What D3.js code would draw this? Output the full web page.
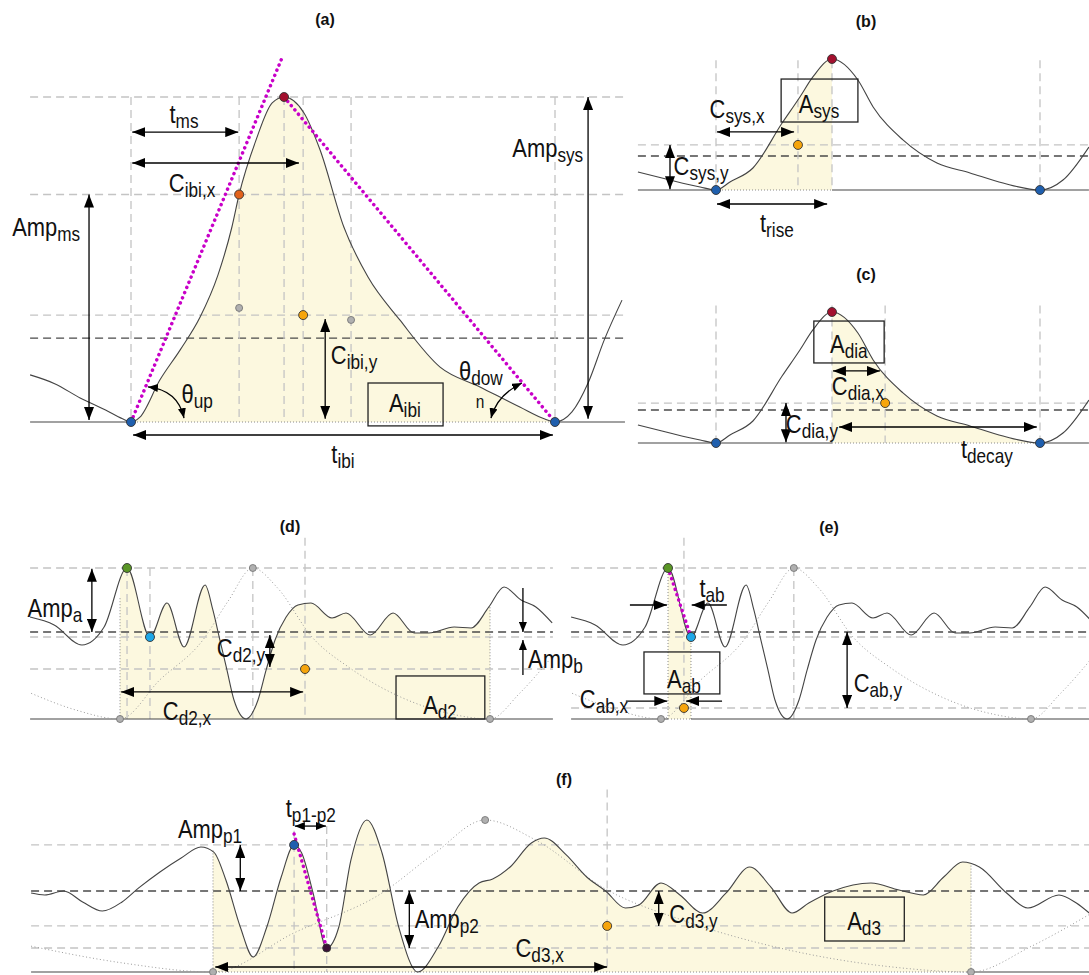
<!DOCTYPE html>
<html><head><meta charset="utf-8">
<script src="https://cdn.jsdelivr.net/npm/d3@7"></script>
<style>
body{margin:0;background:#fff}
svg{display:block;font-family:"Liberation Sans",Arial,sans-serif}
</style></head><body>
<svg id="fig" width="1089" height="975"></svg>
<script>
// ---------- waveforms (time in % of the beat / interval, amplitude normalised) ----------
// (a) one inter-beat interval of the pulse wave
const beatT = [-23.8,-18,-12,-6,-2,0,2.1,6.8,11.6,16.3,20.5,23.8,25.5,29.5,33.3,36.1,40.8,44.6,50.2,55.9,63.4,72.9,82.3,91.7,97.6,100,104,107.8,111.6,115.8];
const beatA = [0.145,0.118,0.074,0.037,0.01,0,0.015,0.129,0.222,0.323,0.452,0.6,0.70,0.868,0.982,1.0,0.951,0.837,0.6,0.446,0.314,0.169,0.108,0.046,0.009,0,0.031,0.12,0.252,0.375];

// (b), (c) the same beat, systolic / diastolic halves
const beat2T = [-24.1,-14.2,-4.9,0,4.3,11.4,20.4,25.9,29.9,35.8,43.8,48.5,57.7,68.2,78.4,88.6,100,107.1,115.1];
const beat2A = [0.137,0.076,0.023,0,0.061,0.168,0.511,0.71,0.863,1,0.84,0.634,0.382,0.206,0.13,0.053,0,0.076,0.328];

// (d), (e) second derivative of the pulse wave
const sdT = [-24.3,-17.8,-10.3,-4.3,1.9,8.1,12.7,17.3,23.0,25.1,27.0,28.9,30.8,34.1,37.3,39.5,41.9,44.9,48.1,51.6,57.3,61.1,67.6,73.8,79.5,83.5,90.3,94.9,99.7,103.8,108.4,112.4,116.8];
const sdA = [0.675,0.623,0.490,0.609,1.0,0.543,0.768,0.477,0.887,0.722,0.523,0.325,0.126,0,0.126,0.325,0.523,0.675,0.755,0.768,0.669,0.702,0.556,0.702,0.570,0.570,0.609,0.603,0.742,0.874,0.788,0.742,0.636];

// (f) third derivative of the pulse wave
const tdT = [-24.0,-22.2,-19.7,-17.2,-14.6,-12.0,-9.8,-7.0,-4.2,-1.6,0.1,1.7,3.6,5.3,7.1,9.0,10.7,11.7,13.2,15.0,16.6,18.2,20.3,22.3,24.5,27.0,29.7,32.3,35.1,36.9,39.2,42.0,43.7,46.6,49.3,51.8,54.4,56.2,59.1,61.6,64.6,67.7,70.8,73.6,76.4,78.6,81.8,86.8,90.5,93.7,96.4,98.9,101.1,104.7,107.5,111.6,113.9,115.6];
const tdA = [0.520,0.507,0.533,0.461,0.401,0.461,0.553,0.658,0.750,0.822,0.789,0.605,0.296,0.099,0.296,0.625,0.836,0.783,0.520,0.158,0.296,0.737,1.0,0.783,0.296,0.0,0.164,0.428,0.586,0.612,0.691,0.849,0.882,0.770,0.625,0.533,0.421,0.441,0.586,0.507,0.388,0.520,0.691,0.559,0.388,0.454,0.533,0.586,0.539,0.507,0.625,0.724,0.691,0.520,0.421,0.507,0.454,0.388];

// reference pulse (dotted) behind the derivative panels
const refT = [-24,-12,0,10.8,22.3,29.2,35.9,42.5,52,62,75.9,89.6,100,108,116];
const refA = [0.17,0.06,0,0.26,0.52,0.78,1,0.87,0.54,0.34,0.145,0.033,0,0.17,0.39];

// panel titles
const titles = ["(a)","(b)","(c)","(d)","(e)","(f)"];

// ---------- setup ----------
const svg = d3.select("#fig");
const defs = svg.append("defs");
function marker(id, w, h) {
  defs.append("marker").attr("id", id).attr("viewBox", `0 0 ${w} ${h}`)
    .attr("refX", w).attr("refY", h / 2).attr("markerWidth", w).attr("markerHeight", h)
    .attr("markerUnits", "userSpaceOnUse").attr("orient", "auto-start-reverse")
    .append("path").attr("d", `M0,0L${w},${h / 2}L0,${h}Z`).attr("fill", "#000");
}
marker("ah", 13, 10);
marker("ahs", 10, 8);

const FILL = "#fcf8df";
const STY = {
  light: { stroke: "#c4c4c4", w: 1.3, dash: "8,5" },
  dark: { stroke: "#4a4a4a", w: 1.4, dash: "8,5" },
  solid: { stroke: "#444", w: 1.1, dash: null },
  dot: { stroke: "#8a8a8a", w: 1, dash: "1,2" },
  ref: { stroke: "#9a9a9a", w: 1, dash: "1,2.5" },
  mag: { stroke: "#c800c8", w: 3.5, dash: "0.1,5.5" }
};

const gFill = svg.append("g"), gGrid = svg.append("g"), gCurve = svg.append("g"),
  gAnno = svg.append("g"), gDots = svg.append("g"), gText = svg.append("g");

function mk(xr, yr) {
  return { x: d3.scaleLinear().domain([0, 100]).range(xr), y: d3.scaleLinear().domain([0, 1]).range(yr) };
}
const PA = mk([131, 555], [422, 97]);
const PB = mk([716, 1040], [190, 59]);
const PC = mk([716, 1040], [443, 312]);
const PD = mk([120, 490], [719, 568]);
const PE = mk([661, 1031], [719, 568]);
const PF = mk([213, 971], [972, 820]);

let clipN = 0;
function styled(sel, s) {
  sel.attr("fill", "none").attr("stroke", s.stroke).attr("stroke-width", s.w);
  if (s.dash) sel.attr("stroke-dasharray", s.dash);
  if (s === STY.mag) sel.attr("stroke-linecap", "round");
  return sel;
}
function seg(g, p, t0, a0, t1, a1, s) {
  return styled(g.append("line").attr("x1", p.x(t0)).attr("y1", p.y(a0)).attr("x2", p.x(t1)).attr("y2", p.y(a1)), s);
}
function hline(p, a, t0, t1, s) { return seg(gGrid, p, t0, a, t1, a, STY[s]); }
function vline(p, t, a0, a1, s) { return seg(gGrid, p, t, a0, t, a1, STY[s]); }
function lineGen(p, T, A, crv) {
  return d3.line().x((d, i) => p.x(T[i])).y((d, i) => p.y(A[i])).curve(crv || d3.curveMonotoneX)(T);
}
function wave(p, T, A, s, crv) {
  return styled(gCurve.append("path").attr("d", lineGen(p, T, A, crv)), STY[s]);
}
function fillUnder(p, T, A, t0, t1) {
  const id = "clip" + (clipN++);
  defs.append("clipPath").attr("id", id).append("rect")
    .attr("x", p.x(t0)).attr("y", 0).attr("width", p.x(t1) - p.x(t0)).attr("height", 975);
  gFill.append("path")
    .attr("d", d3.area().x((d, i) => p.x(T[i])).y0(p.y(0)).y1((d, i) => p.y(A[i])).curve(d3.curveMonotoneX)(T))
    .attr("fill", FILL).attr("clip-path", `url(#${id})`);
}
function arrow(p, t0, a0, t1, a1, both, m) {
  const l = gAnno.append("line").attr("x1", p.x(t0)).attr("y1", p.y(a0)).attr("x2", p.x(t1)).attr("y2", p.y(a1))
    .attr("stroke", "#000").attr("stroke-width", 1.3).attr("marker-end", `url(#${m || "ah"})`);
  if (both) l.attr("marker-start", `url(#${m || "ah"})`);
}
function curvedArrow(p, s, c, e) {
  const path = d3.path();
  path.moveTo(p.x(s[0]), p.y(s[1]));
  path.quadraticCurveTo(p.x(c[0]), p.y(c[1]), p.x(e[0]), p.y(e[1]));
  gAnno.append("path").attr("d", path.toString()).attr("fill", "none").attr("stroke", "#000")
    .attr("stroke-width", 1.3).attr("marker-start", "url(#ahs)").attr("marker-end", "url(#ahs)");
}
function box(p, t0, t1, a0, a1) {
  gAnno.append("rect").attr("x", p.x(t0)).attr("y", p.y(a0)).attr("width", p.x(t1) - p.x(t0))
    .attr("height", p.y(a1) - p.y(a0)).attr("fill", "none").attr("stroke", "#222").attr("stroke-width", 1.3);
}
// symbol with subscript, set slightly condensed
function label(p, t, a, main, sub, anchor, size) {
  const fs = size || 25.5;
  const tx = gText.append("text")
    .attr("transform", `translate(${p.x(t)},${p.y(a)}) scale(0.86,1)`)
    .attr("text-anchor", anchor || "middle").attr("font-size", fs).attr("fill", "#111");
  tx.append("tspan").text(main);
  if (sub) tx.append("tspan").attr("font-size", Math.round(fs * 0.78)).attr("dy", 5).text(sub);
}
const COL = {
  blue: "#1f5fae", red: "#a3102e", ored: "#e2621b", orange: "#f6a50c",
  grey: "#b0b0b0", green: "#5a9626", cyan: "#1ea7e8", dark: "#3a1236"
};
function dot(p, t, a, c, r) {
  gDots.append("circle").attr("cx", p.x(t)).attr("cy", p.y(a)).attr("r", r || 4.5)
    .attr("fill", COL[c]).attr("stroke", c === "grey" ? "#777" : "#333").attr("stroke-width", 0.9);
}

// ---------- (a) inter-beat interval ----------
fillUnder(PA, beatT, beatA, 0, 100);
[1, 0.70, 0.329].forEach(a => hline(PA, a, -23.8, 116.5, "light"));
hline(PA, 0.258, -23.8, 116.5, "dark");
[0, 25.5, 36.1, 40.6, 51.9, 100].forEach(t => vline(PA, t, 1, 0, "light"));
hline(PA, 0, -23.8, 0, "solid"); hline(PA, 0, 100, 116.5, "solid"); hline(PA, 0, 0, 100, "dot");
wave(PA, beatT, beatA, "solid");
seg(gAnno, PA, 0, 0, 35.6, 1.12, STY.mag);
seg(gAnno, PA, 36.1, 1, 100, 0, STY.mag);
arrow(PA, 0.3, 0.892, 25.3, 0.892, true);
arrow(PA, 0.3, 0.797, 39.6, 0.797, true);
arrow(PA, -9.9, 0.70, -9.9, 0.006, true);
arrow(PA, 107.8, 1, 107.8, 0.01, true);
arrow(PA, 45.8, 0.317, 45.8, 0.01, true);
arrow(PA, 0.5, -0.04, 99.5, -0.04, true);
curvedArrow(PA, [4.0, 0.108], [11.1, 0.098], [12.5, 0.012]);
curvedArrow(PA, [92.2, 0.12], [86.3, 0.083], [84.9, 0.012]);
box(PA, 55.9, 73.6, 0.12, -0.012);
label(PA, 12.5, 0.92, "t", "ms");
label(PA, 14.4, 0.708, "C", "ibi,x");
label(PA, -20, 0.572, "Amp", "ms");
label(PA, 98.3, 0.815, "Amp", "sys");
label(PA, 52.6, 0.18, "C", "ibi,y");
label(PA, 15.6, 0.058, "θ", "up");
label(PA, 82.5, 0.129, "θ", "dow");
label(PA, 82.3, 0.043, "n", null, "middle", 18);
label(PA, 64.6, 0.031, "A", "ibi");
label(PA, 50, -0.126, "t", "ibi");
dot(PA, 0, 0, "blue"); dot(PA, 100, 0, "blue"); dot(PA, 36.1, 1, "red");
dot(PA, 25.5, 0.70, "ored"); dot(PA, 40.6, 0.329, "orange");
dot(PA, 25.5, 0.351, "grey", 3.5); dot(PA, 51.9, 0.314, "grey", 3.5);

// ---------- (b) systolic part ----------
fillUnder(PB, beat2T, beat2A, 0, 35.8);
hline(PB, 0.344, -24.1, 115.1, "light"); hline(PB, 0.26, -24.1, 115.1, "dark");
[0, 25.3, 35.8, 100].forEach(t => vline(PB, t, 0.99, 0, "light"));
hline(PB, 0, -24.1, 0, "solid"); hline(PB, 0, 35.8, 115.1, "solid"); hline(PB, 0, 0, 35.8, "dot");
wave(PB, beat2T, beat2A, "solid");
box(PB, 20.1, 43.8, 0.847, 0.519);
arrow(PB, 0.3, 0.443, 24.1, 0.443, true);
arrow(PB, -14.2, 0.344, -14.2, 0.005, true);
arrow(PB, 0.3, -0.107, 34.3, -0.107, true);
label(PB, 31.8, 0.588, "A", "sys");
label(PB, 6.5, 0.55, "C", "sys,x");
label(PB, -4.6, 0.115, "C", "sys,y");
label(PB, 18.8, -0.32, "t", "rise");
dot(PB, 0, 0, "blue"); dot(PB, 100, 0, "blue"); dot(PB, 35.8, 1, "red"); dot(PB, 25.3, 0.344, "orange");

// ---------- (c) diastolic part ----------
fillUnder(PC, beat2T, beat2A, 35.8, 100);
hline(PC, 0.305, -24.1, 115.1, "light"); hline(PC, 0.252, -24.1, 115.1, "dark");
[0, 35.8, 52.2, 100].forEach(t => vline(PC, t, 1.05, 0, "light"));
hline(PC, 0, -24.1, 35.8, "solid"); hline(PC, 0, 100, 115.1, "solid"); hline(PC, 0, 35.8, 100, "dot");
wave(PC, beat2T, beat2A, "solid");
box(PC, 30.2, 51.9, 0.931, 0.611);
arrow(PC, 36.1, 0.55, 50.6, 0.55, true);
arrow(PC, 21.6, 0.305, 21.6, 0.005, true);
arrow(PC, 38, 0.122, 99, 0.122, true);
label(PC, 41, 0.687, "A", "dia");
label(PC, 43.8, 0.366, "C", "dia,x");
label(PC, 29.6, 0.076, "C", "dia,y");
label(PC, 83.6, -0.115, "t", "decay");
dot(PC, 0, 0, "blue"); dot(PC, 100, 0, "blue"); dot(PC, 35.8, 1, "red"); dot(PC, 52.2, 0.305, "orange");

// ---------- (d) second derivative, whole beat ----------
fillUnder(PD, sdT, sdA, 0, 100);
hline(PD, 1, -24.3, 117, "light"); hline(PD, 0.543, -24.3, 117, "light");
hline(PD, 0.331, -24.3, 117, "light"); hline(PD, 0.576, -24.3, 117, "dark");
[1.9, 8.1, 35.9].forEach(t => vline(PD, t, 1, 0, "light"));
vline(PD, 50, 1.2, 0, "light");
vline(PD, 0, 0.8, 0, "dot"); vline(PD, 100, 0.74, 0, "dot");
hline(PD, 0, -24.3, 117, "solid");
wave(PD, refT, refA, "ref");
wave(PD, sdT, sdA, "solid");
arrow(PD, -7.6, 0.995, -7.6, 0.576, true);
arrow(PD, 40.5, 0.556, 40.5, 0.344, true);
arrow(PD, 108.9, 0.868, 108.9, 0.576, false, "ahs");
arrow(PD, 108.9, 0.291, 108.9, 0.523, false, "ahs");
arrow(PD, 0.3, 0.179, 49.5, 0.179, true);
box(PD, 74.6, 98.6, 0.285, 0);
label(PD, -17.6, 0.675, "Amp", "a");
label(PD, 32.7, 0.41, "C", "d2,y");
label(PD, 110.3, 0.338, "Amp", "b", "start");
label(PD, 18.1, -0.007, "C", "d2,x");
label(PD, 86.5, 0.033, "A", "d2");
dot(PD, 0, 0, "grey", 3.5); dot(PD, 35.9, 1, "grey", 3.5); dot(PD, 100, 0, "grey", 3.5);
dot(PD, 1.9, 1, "green"); dot(PD, 8.1, 0.543, "cyan"); dot(PD, 50, 0.331, "orange");

// ---------- (e) second derivative, a-b segment ----------
fillUnder(PE, sdT, sdA, 1.9, 8.1);
hline(PE, 1, -24.3, 116, "light"); hline(PE, 0.543, -24.3, 116, "light");
hline(PE, 0.073, -24.3, 116, "light"); hline(PE, 0.576, -24.3, 116, "dark");
vline(PE, 6.2, 1.2, 0, "light"); vline(PE, 35.9, 1, 0, "light");
vline(PE, 1.9, 1, 0, "dot"); vline(PE, 8.1, 0.543, 0, "dot");
hline(PE, 0, -24.3, 1.9, "solid"); hline(PE, 0, 8.1, 116, "solid"); hline(PE, 0, 1.9, 8.1, "dot");
wave(PE, refT, refA, "ref");
wave(PE, sdT, sdA, "solid");
seg(gAnno, PE, 1.9, 1, 8.1, 0.543, STY.mag);
arrow(PE, -8.4, 0.755, 1.6, 0.755, false);
arrow(PE, 17.8, 0.755, 8.3, 0.755, false);
arrow(PE, -9.5, 0.119, 1.7, 0.119, false);
arrow(PE, 16.5, 0.119, 6.8, 0.119, false);
arrow(PE, 50.3, 0.576, 50.3, 0.073, true);
box(PE, -4.6, 15.9, 0.444, 0.166);
label(PE, 13.8, 0.808, "t", "ab");
label(PE, 6.2, 0.205, "A", "ab");
label(PE, -15.4, 0.073, "C", "ab,x");
label(PE, 58.6, 0.179, "C", "ab,y");
dot(PE, 0, 0, "grey", 3.5); dot(PE, 35.9, 1, "grey", 3.5); dot(PE, 100, 0, "grey", 3.5);
dot(PE, 1.9, 1, "green"); dot(PE, 8.1, 0.543, "cyan"); dot(PE, 6.2, 0.073, "orange");

// ---------- (f) third derivative ----------
fillUnder(PF, tdT, tdA, 0, 100);
[0.836, 0.303, 0.158].forEach(a => hline(PF, a, -24, 115.6, "light"));
hline(PF, 0.533, -24, 115.6, "dark");
vline(PF, 10.7, 0.93, 0, "light"); vline(PF, 15, 0.96, 0, "light"); vline(PF, 52, 1.2, 0, "light");
vline(PF, 0, 0.8, 0, "dot"); vline(PF, 100, 0.7, 0, "dot");
hline(PF, 0, -24, 0, "solid"); hline(PF, 0, 100, 115.6, "solid"); hline(PF, 0, 0, 100, "dot");
wave(PF, refT, refA, "ref");
wave(PF, tdT, tdA, "solid");
seg(gAnno, PF, 10.7, 0.908, 15, 0.158, STY.mag);
arrow(PF, 10.8, 0.96, 14.9, 0.96, true, "ahs");
arrow(PF, 3.6, 0.836, 3.6, 0.533, true);
arrow(PF, 25.9, 0.533, 25.9, 0.158, true);
arrow(PF, 0.3, 0.033, 52, 0.033, true);
arrow(PF, 58.8, 0.533, 58.8, 0.303, true);
box(PF, 80.7, 91.2, 0.493, 0.204);
label(PF, 12.9, 1.02, "t", "p1-p2");
label(PF, -0.4, 0.882, "Amp", "p1");
label(PF, 26.6, 0.29, "Amp", "p2", "start");
label(PF, 43.1, 0.099, "C", "d3,x");
label(PF, 60.2, 0.322, "C", "d3,y", "start");
label(PF, 85.9, 0.276, "A", "d3");
dot(PF, 0, 0, "grey", 3.5); dot(PF, 35.9, 1, "grey", 3.5); dot(PF, 100, 0, "grey", 3.5);
dot(PF, 10.7, 0.836, "blue"); dot(PF, 15, 0.158, "dark", 4); dot(PF, 52, 0.303, "orange");

// ---------- panel titles ----------
const titlePos = [[325, 25], [866, 27], [866, 280], [290, 532], [829, 533], [564, 785]];
gText.selectAll("text.title").data(titles).join("text").attr("class", "title")
  .attr("x", (d, i) => titlePos[i][0]).attr("y", (d, i) => titlePos[i][1])
  .attr("text-anchor", "middle").attr("font-size", 16).attr("font-weight", "bold").attr("fill", "#111")
  .text(d => d);
</script>
</body></html>
